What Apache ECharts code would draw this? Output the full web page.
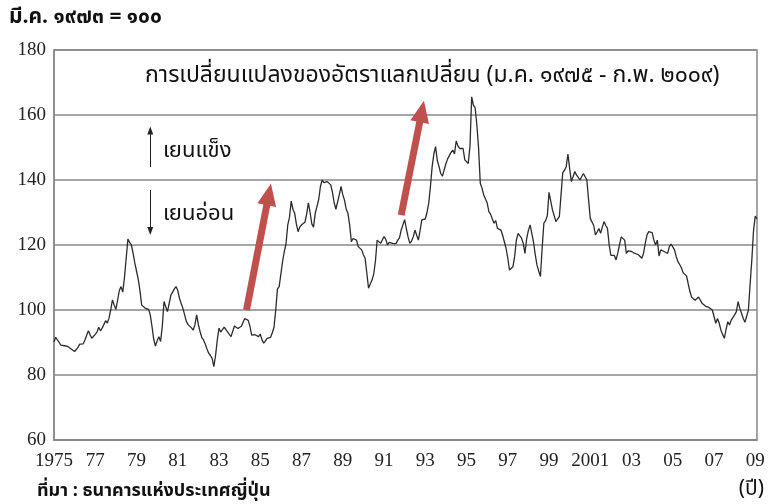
<!DOCTYPE html>
<html>
<head>
<meta charset="utf-8">
<script src="https://cdn.jsdelivr.net/npm/echarts@6/dist/echarts.min.js"></script>
<style>
  html, body { margin: 0; background: #fff; }
  #chart { width: 770px; height: 504px; }
</style>
</head>
<body>
<div id="chart"></div>
<script>
// ดัชนีค่าเงินเยน (มี.ค. 1973 = 100), รายเดือน ม.ค. 1975 - ก.พ. 2009
const firstYear = 1975
const yearLabels = ['1975', '77', '79', '81', '83', '85', '87', '89', '91', '93',
  '95', '97', '99', '2001', '03', '05', '07', '09']

const yenIndex = [
  90.2, 91.6, 91.0, 90.0, 89.2, 89.4, 89.0, 89.4, 88.8, 88.3, 88.0, 87.5, // 1975
  87.2, 87.8, 88.6, 89.5, 89.3, 89.6, 90.8, 92.2, 93.6, 92.4, 91.3, 91.8, // 1976
  92.5, 93.2, 94.7, 93.6, 94.4, 95.5, 96.7, 96.0, 97.5, 100.0, 103.1, 101.5, // 1977
  100.2, 103.0, 106.0, 107.2, 105.5, 110.0, 116.0, 121.8, 120.8, 120.0, 117.5, 114.5, // 1978
  112.0, 109.5, 106.0, 101.5, 101.0, 100.6, 100.4, 100.2, 98.5, 95.0, 91.0, 88.9, // 1979
  90.5, 91.8, 90.3, 95.0, 102.6, 101.0, 99.5, 102.0, 104.6, 105.5, 106.5, 107.2, // 1980
  106.0, 103.6, 102.0, 100.5, 98.5, 96.5, 95.5, 95.0, 94.5, 93.8, 95.5, 98.5, // 1981
  95.5, 93.3, 91.5, 90.8, 89.5, 88.0, 86.7, 86.0, 85.1, 82.6, 86.0, 90.8, // 1982
  94.4, 93.2, 93.8, 94.7, 94.0, 93.6, 92.5, 91.8, 93.5, 95.1, 94.6, 94.3, // 1983
  94.3, 95.0, 96.2, 97.4, 97.0, 96.8, 95.0, 92.3, 92.6, 92.4, 92.6, 91.8, // 1984
  92.6, 90.8, 89.8, 90.5, 91.3, 91.8, 91.6, 93.0, 94.7, 100.0, 106.5, 107.2, // 1985
  107.5, 115.0, 118.0, 120.5, 126.2, 128.5, 133.5, 131.0, 129.8, 126.5, 124.1, 125.5, // 1986
  126.2, 126.0, 127.0, 129.5, 133.0, 130.0, 126.5, 125.5, 129.8, 130.3, 134.0, 138.0, // 1987
  140.0, 139.2, 138.6, 139.5, 140.0, 138.5, 136.2, 133.0, 131.0, 131.5, 135.5, 138.0, // 1988
  135.5, 133.8, 131.0, 129.8, 126.2, 121.0, 122.0, 122.6, 121.5, 119.5, 120.0, 118.5, // 1989
  117.0, 115.9, 111.3, 106.7, 108.0, 109.2, 111.0, 115.0, 121.5, 122.0, 120.5, 121.0, // 1990
  122.6, 121.8, 120.0, 120.8, 121.0, 120.5, 120.0, 120.4, 121.5, 122.2, 124.6, 124.8, // 1991
  127.8, 125.0, 122.5, 120.5, 121.2, 122.5, 124.6, 123.0, 121.5, 124.5, 127.7, 127.5, // 1992
  128.0, 130.0, 132.8, 138.0, 144.1, 148.0, 150.3, 146.0, 144.1, 142.0, 141.2, 140.8, // 1993
  145.0, 146.5, 147.5, 148.5, 149.2, 148.0, 152.0, 150.5, 149.7, 149.5, 149.7, 146.2, // 1994
  145.6, 145.1, 150.3, 165.6, 163.0, 162.3, 157.0, 150.0, 139.0, 137.5, 135.4, 135.0, // 1995
  133.0, 130.3, 129.5, 128.0, 126.7, 127.5, 125.1, 125.5, 124.6, 123.0, 121.0, 119.0, // 1996
  116.0, 112.3, 112.8, 113.3, 116.5, 121.5, 123.6, 123.1, 122.1, 120.5, 117.4, 122.0, // 1997
  124.5, 126.2, 123.5, 120.8, 117.0, 113.8, 112.0, 110.3, 119.0, 126.7, 127.5, 129.0, // 1998
  136.2, 133.5, 130.8, 129.0, 127.2, 128.0, 128.7, 135.5, 142.3, 143.0, 144.1, 148.0, // 1999
  143.5, 139.5, 141.0, 142.6, 141.5, 140.8, 140.0, 141.0, 142.0, 141.0, 140.0, 134.0, // 2000
  128.2, 128.5, 126.0, 123.1, 124.0, 125.1, 123.6, 125.5, 127.2, 126.0, 125.1, 120.0, // 2001
  116.8, 116.2, 116.8, 115.4, 117.5, 120.0, 122.5, 123.1, 121.5, 117.4, 118.2, 118.0, // 2002
  118.0, 117.8, 117.4, 117.9, 117.0, 116.6, 115.9, 117.5, 120.5, 123.1, 124.1, 123.5, // 2003
  123.8, 121.5, 120.0, 121.5, 116.6, 118.5, 119.0, 118.0, 117.8, 117.4, 119.5, 120.3, // 2004
  120.5, 118.5, 116.4, 114.9, 114.0, 113.0, 111.5, 111.0, 110.5, 108.0, 105.6, 103.9, // 2005
  103.5, 103.0, 103.1, 104.0, 104.6, 102.1, 101.5, 101.2, 101.0, 100.8, 101.0, 100.0, // 2006
  98.0, 95.9, 97.4, 96.0, 93.8, 92.5, 91.3, 94.0, 96.4, 95.4, 96.9, 97.5, // 2007
  98.5, 99.5, 102.6, 100.5, 99.0, 97.4, 96.2, 96.0, 100.0, 108.0, 115.5, 124.6, // 2008
  128.9, 128.0 // 2009
]

// หมวดหมู่รายเดือน
const months = yenIndex.map((v, i) => {
  const y = firstYear + Math.floor(i / 12)
  return y + '-' + String(i % 12 + 1).padStart(2, '0')
})

const thaiFont = "'Noto Sans Thai', 'Noto Sans', 'DejaVu Sans', sans-serif"
const numFont = "'Liberation Serif', 'DejaVu Serif', serif"
const arrowRed = '#c0504d'

const chart = echarts.init(document.getElementById('chart'))

chart.setOption({
  animation: false,
  backgroundColor: '#ffffff',
  grid: { left: 54, right: 13, top: 50, bottom: 64, show: true, borderColor: '#888', borderWidth: 1.5 },
  xAxis: {
    type: 'category',
    data: months,
    boundaryGap: false,
    axisLine: { lineStyle: { color: '#888', width: 1.5 } },
    axisTick: { show: false },
    axisLabel: {
      interval: 23,
      margin: 12,
      color: '#222',
      fontFamily: numFont,
      fontSize: 19,
      formatter: (val, idx) => yearLabels[Math.floor(idx / 24)] || '',
    },
    splitLine: { show: false },
  },
  yAxis: {
    type: 'value',
    min: 60,
    max: 180,
    interval: 20,
    axisLine: { show: true, lineStyle: { color: '#888', width: 1.5 } },
    axisTick: { show: false },
    axisLabel: { color: '#222', fontFamily: numFont, fontSize: 19, margin: 8 },
    splitLine: { lineStyle: { color: '#888', width: 1.5 } },
  },
  series: [
    {
      type: 'line',
      data: yenIndex,
      showSymbol: false,
      lineStyle: { color: '#2b2b2b', width: 1.3 },
      markLine: {
        silent: true,
        animation: false,
        label: { show: false },
        data: [
          [
            { coord: [months[112], 100], symbol: 'none', lineStyle: { color: arrowRed, width: 7, type: 'solid' } },
            { coord: [months[125], 135.6], symbol: 'triangle', symbolSize: [19, 22] },
          ],
          [
            { coord: [months[202], 129.2], symbol: 'none', lineStyle: { color: arrowRed, width: 7, type: 'solid' } },
            { coord: [months[214], 161.1], symbol: 'triangle', symbolSize: [19, 22] },
          ],
          [
            { coord: [months[56], 144], symbol: 'none', lineStyle: { color: '#222', width: 1, type: 'solid' } },
            { coord: [months[56], 155.2], symbol: 'triangle', symbolSize: [6, 8] },
          ],
          [
            { coord: [months[56], 136.9], symbol: 'none', lineStyle: { color: '#222', width: 1, type: 'solid' } },
            { coord: [months[56], 124.3], symbol: 'triangle', symbolSize: [6, 8] },
          ],
        ],
      },
    },
  ],
  graphic: [
    { type: 'text', left: 9, top: 8, style: { text: 'มี.ค. ๑๙๗๓ = ๑๐๐', font: 'bold 21px ' + thaiFont, fill: '#111' } },
    { type: 'text', left: 145, top: 66, style: { text: 'การเปลี่ยนแปลงของอัตราแลกเปลี่ยน (ม.ค. ๑๙๗๕ - ก.พ. ๒๐๐๙)', font: '23px ' + thaiFont, fill: '#111' } },
    { type: 'text', left: 163, top: 142, style: { text: 'เยนแข็ง', font: '22px ' + thaiFont, fill: '#111' } },
    { type: 'text', left: 163, top: 205, style: { text: 'เยนอ่อน', font: '22px ' + thaiFont, fill: '#111' } },
    { type: 'text', left: 37, top: 483, style: { text: 'ที่มา : ธนาคารแห่งประเทศญี่ปุ่น', font: 'bold 18px ' + thaiFont, fill: '#111' } },
    { type: 'text', right: 6, top: 480, style: { text: '(ปี)', font: '21px ' + thaiFont, fill: '#111' } },
  ],
})
</script>
</body>
</html>
